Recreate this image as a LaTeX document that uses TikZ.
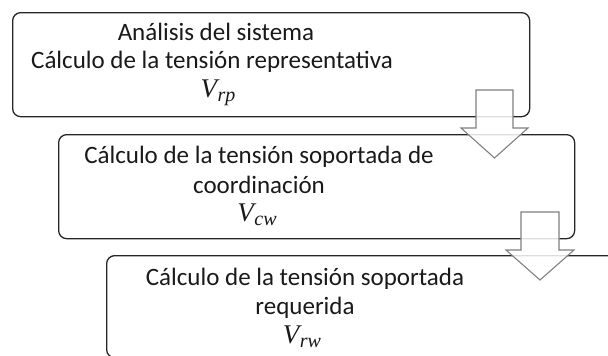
\documentclass[tikz,border=0pt]{standalone}
\usepackage{fontspec}
\setmainfont{Carlito}
\newfontfamily\vfont{Liberation Serif}
\newcommand{\vsym}[1]{{\vfont\itshape\fontsize{27}{28}\selectfont V\kern0.5pt\raisebox{-4.5pt}{\fontsize{20}{20}\selectfont #1}}}
\begin{document}
\begin{tikzpicture}[x=1pt,y=-1pt,
  box/.style={draw=black!85, line width=1.3pt, rounded corners=8pt, minimum width=#1, anchor=north west, inner sep=0pt},
  lbl/.style={font=\fontsize{25}{28}\selectfont, text=black!90, inner sep=0pt, anchor=base},
  blockarrow/.style={draw=black!50, line width=1.1pt, fill=white, fill opacity=0.85}]
\useasboundingbox (0,0) rectangle (608,356);
\clip (0,0) rectangle (608,356);
% boxes
\node[box=517pt, minimum height=104pt] (b1) at (12,12) {};
\node[box=516pt, minimum height=104pt] (b2) at (58,134) {};
\node[box=520pt, minimum height=102pt] (b3) at (106,255) {};
% texts
\node[lbl] (t11) at (216,40) {Análisis del sistema};
\node[lbl] (t12) at (212,68) {Cálculo de la tensión representativa};
\node[lbl] (t13) at (218,97) {\vsym{rp}};
\node[lbl] (t21) at (259,163) {Cálculo de la tensión soportada de};
\node[lbl] (t22) at (259,193) {coordinación};
\node[lbl] (t23) at (257,221) {\vsym{cw}};
\node[lbl] (t31) at (305,285) {Cálculo de la tensión soportada};
\node[lbl] (t32) at (305,314) {requerida};
\node[lbl] (t33) at (302,343) {\vsym{rw}};
% block arrows
\coordinate (a1) at (494.5,90);
\coordinate (a2) at (540,212);
\begin{scope}[shift={(a1)}]
\draw[blockarrow] (-18.5,0) -- (18.5,0) -- (18.5,38) -- (33.5,38) -- (0,68) -- (-33.5,38) -- (-18.5,38) -- cycle;
\end{scope}
\begin{scope}[shift={(a2)}]
\draw[blockarrow] (-19,0) -- (19,0) -- (19,38) -- (34,38) -- (0,68) -- (-34,38) -- (-19,38) -- cycle;
\end{scope}
\end{tikzpicture}
\end{document}
